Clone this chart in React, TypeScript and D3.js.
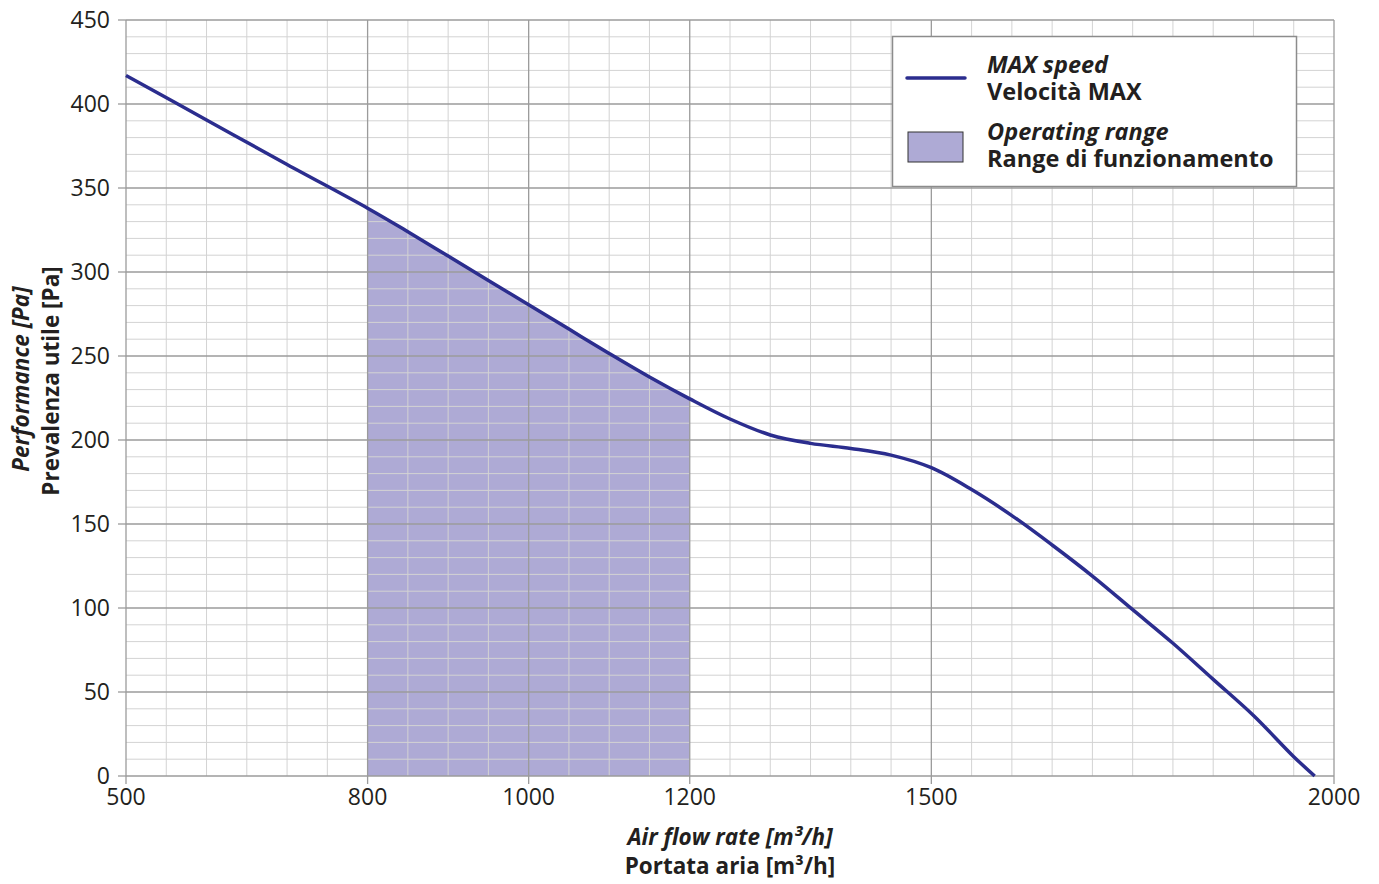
import React from "react";
import * as d3 from "d3";

const flow = [500, 600, 700, 800, 850, 900, 950, 1000, 1050, 1100, 1150, 1200, 1250, 1300, 1350, 1400, 1450, 1500, 1550, 1600, 1650, 1700, 1750, 1800, 1850, 1900, 1950, 1976];
const pressure = [417, 390.5, 364, 338, 324, 309.5, 295, 280.5, 266, 251.5, 237.5, 224.5, 212.5, 203, 198, 195, 191, 183.5, 170.5, 155, 137.5, 119, 99, 79, 57.5, 36, 11.5, 0];
const xTicks = [500, 800, 1000, 1200, 1500, 2000];
const yTicks = [0, 50, 100, 150, 200, 250, 300, 350, 400, 450];
const rangeStart = 800;
const rangeEnd = 1200;

const FONT = "'Open Sans', 'Noto Sans', sans-serif";

export default function App() {
  const W = 1379, H = 884;
  const x = d3.scaleLinear().domain([500, 2000]).range([126, 1334]);
  const y = d3.scaleLinear().domain([0, 450]).range([776, 20]);

  const pts = flow.map((f, i) => ({ f, p: pressure[i] }));
  const line = d3.line<any>().x(d => x(d.f)).y(d => y(d.p)).curve(d3.curveCatmullRom.alpha(0.5));
  const area = d3.area<any>().x(d => x(d.f)).y0(y(0)).y1(d => y(d.p)).curve(d3.curveCatmullRom.alpha(0.5));
  const rangePts = pts.filter(d => d.f >= rangeStart && d.f <= rangeEnd);

  const minorX = d3.range(550, 2000, 50).filter(v => !xTicks.includes(v));
  const minorY = d3.range(10, 450, 10).filter(v => v % 50 !== 0);

  const minorColor = "#d3d3d3";
  const majorColor = "#9b9b9b";
  const textColor = "#231f20";

  return (
    <svg width={W} height={H} style={{ position: "absolute", left: 0, top: 0, display: "block", background: "#fff" }} fontFamily={FONT}>
      <path d={area(rangePts) || ""} fill="#aeaad5" />
      {minorX.map(v => (
        <line key={"mx" + v} x1={x(v)} x2={x(v)} y1={y(0)} y2={y(450)} stroke={minorColor} strokeWidth={1} />
      ))}
      {minorY.map(v => (
        <line key={"my" + v} x1={x(500)} x2={x(2000)} y1={y(v)} y2={y(v)} stroke={minorColor} strokeWidth={1} />
      ))}
      {xTicks.map(v => (
        <line key={"Mx" + v} x1={x(v)} x2={x(v)} y1={y(0)} y2={y(450)} stroke={majorColor} strokeWidth={1.3} />
      ))}
      {yTicks.map(v => (
        <line key={"My" + v} x1={x(500)} x2={x(2000)} y1={y(v)} y2={y(v)} stroke={majorColor} strokeWidth={1.3} />
      ))}
      {yTicks.map(v => (
        <line key={"ty" + v} x1={x(500) - 8} x2={x(500)} y1={y(v)} y2={y(v)} stroke={majorColor} strokeWidth={1.3} />
      ))}
      {xTicks.map(v => (
        <line key={"tx" + v} x1={x(v)} x2={x(v)} y1={y(0)} y2={y(0) + 8} stroke={majorColor} strokeWidth={1.3} />
      ))}
      <path d={line(pts) || ""} fill="none" stroke="#2b2d8e" strokeWidth={3.5} strokeLinejoin="round" />
      {yTicks.map(v => (
        <text key={"ly" + v} x={110} y={y(v)} dy="0.36em" textAnchor="end" fontSize={23} fill={textColor}>{v}</text>
      ))}
      {xTicks.map(v => (
        <text key={"lx" + v} x={x(v)} y={805} textAnchor="middle" fontSize={23} fill={textColor}>{v}</text>
      ))}
      <text x={730} y={845} textAnchor="middle" fontSize={22.5} fontWeight="bold" fontStyle="italic" fill={textColor}>Air flow rate [m³/h]</text>
      <text x={730} y={874} textAnchor="middle" fontSize={22.5} fontWeight="bold" fill={textColor}>Portata aria [m³/h]</text>
      <g transform="translate(29,379) rotate(-90)">
        <text x={0} y={0} textAnchor="middle" fontSize={22.5} fontWeight="bold" fontStyle="italic" fill={textColor}>Performance [Pa]</text>
      </g>
      <g transform="translate(59,381) rotate(-90)">
        <text x={0} y={0} textAnchor="middle" fontSize={22.5} fontWeight="bold" fill={textColor}>Prevalenza utile [Pa]</text>
      </g>
      <rect x={892.5} y={36.5} width={404} height={150} fill="#fff" stroke="#8c8c8c" strokeWidth={1.5} />
      <line x1={907} x2={965} y1={78} y2={78} stroke="#2b2d8e" strokeWidth={3.5} strokeLinecap="round" />
      <rect x={908} y={132} width={55} height={30} fill="#aeaad5" stroke="#333" strokeWidth={1} />
      <text x={987} y={73} fontSize={23.5} fontWeight="bold" fontStyle="italic" fill={textColor}>MAX speed</text>
      <text x={987} y={100} fontSize={23.5} fontWeight="bold" fill={textColor}>Velocità MAX</text>
      <text x={987} y={140} fontSize={23.5} fontWeight="bold" fontStyle="italic" fill={textColor}>Operating range</text>
      <text x={987} y={167} fontSize={23.5} fontWeight="bold" fill={textColor}>Range di funzionamento</text>
    </svg>
  );
}
